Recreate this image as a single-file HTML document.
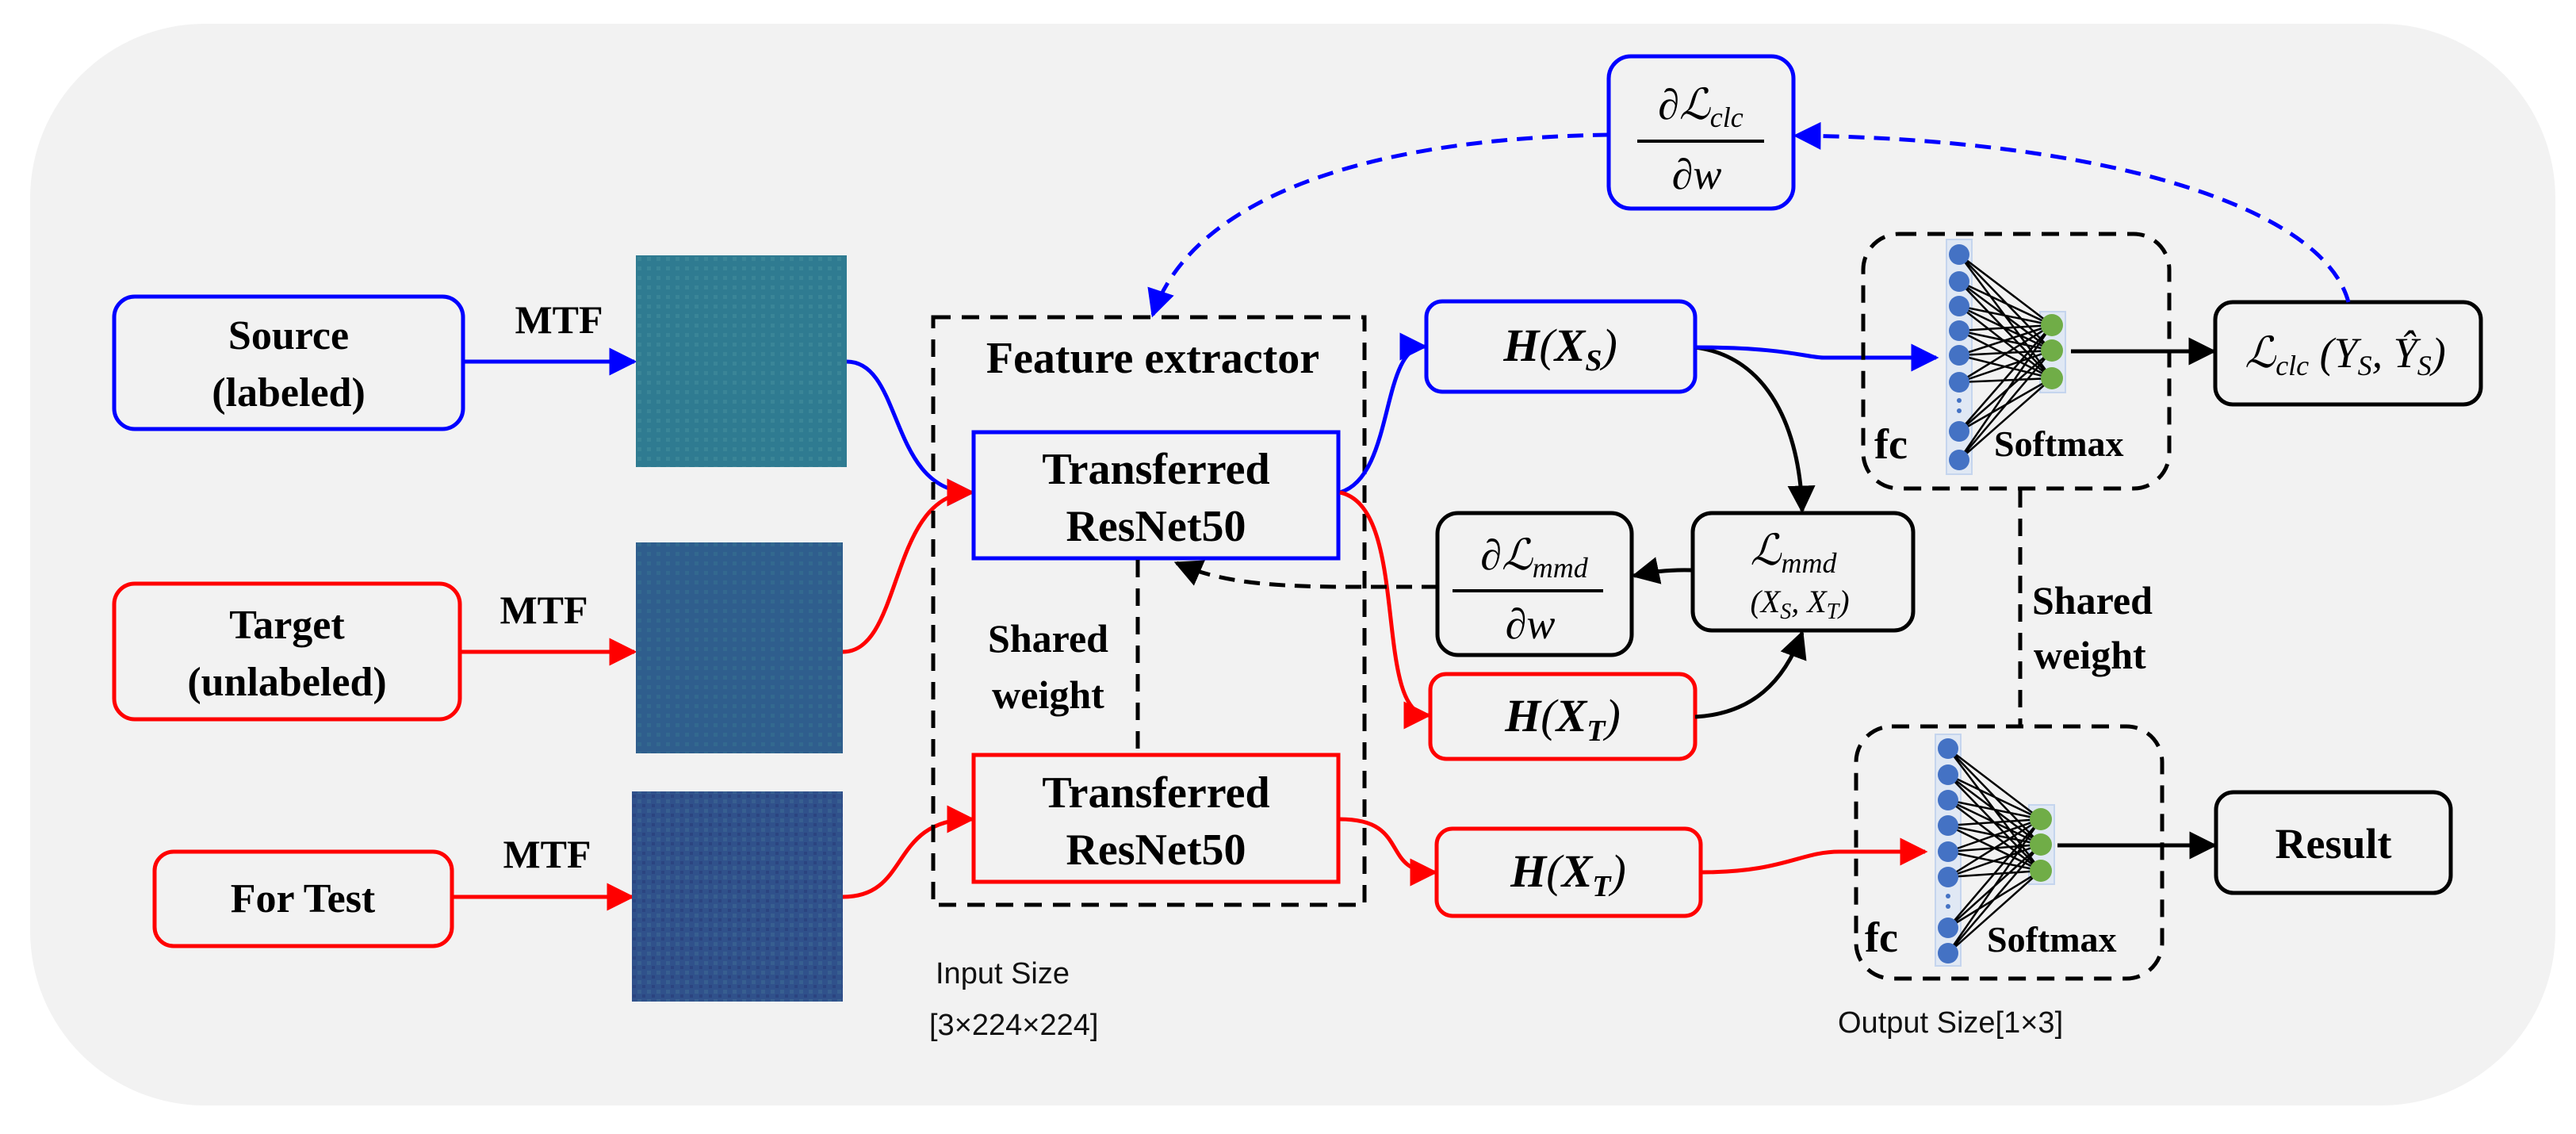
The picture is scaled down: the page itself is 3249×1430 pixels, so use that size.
<!DOCTYPE html>
<html><head><meta charset="utf-8"><style>
html,body{margin:0;padding:0;background:#fff}
svg{display:block}
.b{font-family:"Liberation Serif",serif;font-weight:bold;fill:#000}
.m{font-family:"Liberation Serif",serif;font-style:italic;fill:#000}
.s{font-family:"Liberation Sans",sans-serif;fill:#111}
</style></head><body>
<svg width="3249" height="1430" viewBox="0 0 3249 1430" xmlns="http://www.w3.org/2000/svg">
<defs>
<marker id="ab" viewBox="0 0 10 10" refX="9" refY="5" markerWidth="7" markerHeight="7" orient="auto" markerUnits="strokeWidth"><path d="M0,0L10,5L0,10z" fill="#0000ff"/></marker>
<marker id="ar" viewBox="0 0 10 10" refX="9" refY="5" markerWidth="7" markerHeight="7" orient="auto" markerUnits="strokeWidth"><path d="M0,0L10,5L0,10z" fill="#ff0000"/></marker>
<marker id="ak" viewBox="0 0 10 10" refX="9" refY="5" markerWidth="7" markerHeight="7" orient="auto" markerUnits="strokeWidth"><path d="M0,0L10,5L0,10z" fill="#000"/></marker>
<pattern id="p1" width="12" height="12" patternUnits="userSpaceOnUse"><rect width="12" height="12" fill="#2f7b91"/><rect width="5" height="5" fill="#3a8597"/></pattern>
<pattern id="p2" width="12" height="12" patternUnits="userSpaceOnUse"><rect width="12" height="12" fill="#2f5e8d"/><rect width="5" height="5" fill="#33698f"/></pattern>
<pattern id="p3" width="12" height="12" patternUnits="userSpaceOnUse"><rect width="12" height="12" fill="#30518b"/><rect width="5" height="5" fill="#375f90"/><rect x="6" y="6" width="4" height="4" fill="#2b4480"/></pattern>
</defs>
<rect x="38" y="30" width="3185" height="1364" rx="220" fill="#f2f2f2"/>

<rect x="144" y="374" width="440" height="167" rx="26" fill="none" stroke="#0000ff" stroke-width="5"/>
<text class="b" x="364" y="440" font-size="52" text-anchor="middle">Source</text>
<text class="b" x="364" y="512" font-size="52" text-anchor="middle">(labeled)</text>
<rect x="144" y="736" width="436" height="171" rx="26" fill="none" stroke="#ff0000" stroke-width="5"/>
<text class="b" x="362" y="805" font-size="52" text-anchor="middle">Target</text>
<text class="b" x="362" y="877" font-size="52" text-anchor="middle">(unlabeled)</text>
<rect x="195" y="1074" width="375" height="119" rx="24" fill="none" stroke="#ff0000" stroke-width="5"/>
<text class="b" x="382" y="1150" font-size="52" text-anchor="middle">For Test</text>

<text class="b" x="705" y="420" font-size="50" text-anchor="middle">MTF</text>
<text class="b" x="686" y="786" font-size="50" text-anchor="middle">MTF</text>
<text class="b" x="690" y="1094" font-size="50" text-anchor="middle">MTF</text>
<line x1="584" y1="456" x2="800" y2="456" stroke="#0000ff" stroke-width="5" marker-end="url(#ab)"/>
<line x1="580" y1="822" x2="800" y2="822" stroke="#ff0000" stroke-width="5" marker-end="url(#ar)"/>
<line x1="570" y1="1131" x2="797" y2="1131" stroke="#ff0000" stroke-width="5" marker-end="url(#ar)"/>

<rect x="802" y="322" width="266" height="267" fill="url(#p1)"/>
<rect x="802" y="684" width="261" height="266" fill="url(#p2)"/>
<rect x="797" y="998" width="266" height="265" fill="url(#p3)"/>

<path d="M1068,456 C1140,456 1120,621 1226,621" fill="none" stroke="#0000ff" stroke-width="5" marker-end="url(#ab)"/>
<path d="M1063,822 C1140,822 1120,621 1226,621" fill="none" stroke="#ff0000" stroke-width="5" marker-end="url(#ar)"/>
<path d="M1063,1131 C1150,1131 1120,1033 1226,1033" fill="none" stroke="#ff0000" stroke-width="5" marker-end="url(#ar)"/>

<rect x="1177" y="400" width="544" height="741" fill="none" stroke="#000" stroke-width="5" stroke-dasharray="22,14"/>
<text class="b" x="1454" y="470" font-size="56" text-anchor="middle">Feature extractor</text>
<rect x="1228" y="545" width="460" height="159" fill="#f2f2f2" stroke="#0000ff" stroke-width="5"/>
<text class="b" x="1458" y="610" font-size="56" text-anchor="middle">Transferred</text>
<text class="b" x="1458" y="682" font-size="56" text-anchor="middle">ResNet50</text>
<rect x="1228" y="952" width="460" height="160" fill="#f2f2f2" stroke="#ff0000" stroke-width="5"/>
<text class="b" x="1458" y="1018" font-size="56" text-anchor="middle">Transferred</text>
<text class="b" x="1458" y="1090" font-size="56" text-anchor="middle">ResNet50</text>
<line x1="1435" y1="706" x2="1435" y2="950" stroke="#000" stroke-width="5" stroke-dasharray="22,14"/>
<text class="b" x="1322" y="822" font-size="50" text-anchor="middle">Shared</text>
<text class="b" x="1322" y="893" font-size="50" text-anchor="middle">weight</text>
<text class="s" x="1180" y="1240" font-size="38">Input Size</text>
<text class="s" x="1172" y="1305" font-size="38">[3×224×224]</text>

<rect x="1799" y="380" width="339" height="114" rx="20" fill="none" stroke="#0000ff" stroke-width="5"/>
<text class="m" x="1968" y="455" font-size="58" text-anchor="middle"><tspan font-weight="bold">H</tspan>(<tspan font-weight="bold">X</tspan><tspan font-size="38" dy="12" font-weight="bold">S</tspan><tspan dy="-12">)</tspan></text>
<rect x="1804" y="850" width="334" height="107" rx="20" fill="none" stroke="#ff0000" stroke-width="5"/>
<text class="m" x="1971" y="922" font-size="58" text-anchor="middle"><tspan font-weight="bold">H</tspan>(<tspan font-weight="bold">X</tspan><tspan font-size="38" dy="12" font-weight="bold">T</tspan><tspan dy="-12">)</tspan></text>
<rect x="1812" y="1045" width="333" height="110" rx="20" fill="none" stroke="#ff0000" stroke-width="5"/>
<text class="m" x="1978" y="1118" font-size="58" text-anchor="middle"><tspan font-weight="bold">H</tspan>(<tspan font-weight="bold">X</tspan><tspan font-size="38" dy="12" font-weight="bold">T</tspan><tspan dy="-12">)</tspan></text>

<path d="M1690,621 C1760,600 1740,437 1797,437" fill="none" stroke="#0000ff" stroke-width="5" marker-end="url(#ab)"/>
<path d="M1690,621 C1780,640 1730,902 1802,902" fill="none" stroke="#ff0000" stroke-width="5" marker-end="url(#ar)"/>
<path d="M1690,1033 C1780,1033 1740,1100 1810,1100" fill="none" stroke="#ff0000" stroke-width="5" marker-end="url(#ar)"/>

<rect x="1813" y="647" width="245" height="179" rx="26" fill="none" stroke="#000" stroke-width="5"/>
<text class="m" x="1935" y="718" font-size="54" text-anchor="middle">∂ℒ<tspan font-size="36" dy="10">mmd</tspan></text>
<line x1="1832" y1="745" x2="2022" y2="745" stroke="#000" stroke-width="4"/>
<text class="m" x="1930" y="805" font-size="54" text-anchor="middle">∂w</text>
<rect x="2135" y="647" width="278" height="148" rx="24" fill="none" stroke="#000" stroke-width="5"/>
<text class="m" x="2262" y="712" font-size="54" text-anchor="middle">ℒ<tspan font-size="36" dy="10">mmd</tspan></text>
<text class="m" x="2270" y="772" font-size="40" text-anchor="middle">(X<tspan font-size="28" dy="8">S</tspan><tspan dy="-8">, X</tspan><tspan font-size="28" dy="8">T</tspan><tspan dy="-8">)</tspan></text>
<path d="M2138,438 C2230,450 2270,540 2273,644" fill="none" stroke="#000" stroke-width="5" marker-end="url(#ak)"/>
<path d="M2138,904 C2210,900 2250,860 2273,798" fill="none" stroke="#000" stroke-width="5" marker-end="url(#ak)"/>
<path d="M2135,719 C2100,718 2080,722 2061,726" fill="none" stroke="#000" stroke-width="5" marker-end="url(#ak)"/>
<path d="M1813,740 L1700,740 C1580,740 1530,730 1484,710" fill="none" stroke="#000" stroke-width="5" stroke-dasharray="20,12" marker-end="url(#ak)"/>

<path d="M2138,438 C2250,438 2280,451 2300,451 L2442,451" fill="none" stroke="#0000ff" stroke-width="5" marker-end="url(#ab)"/>
<path d="M2145,1100 C2250,1100 2270,1074 2320,1074 L2428,1074" fill="none" stroke="#ff0000" stroke-width="5" marker-end="url(#ar)"/>

<rect x="2350" y="295" width="386" height="321" rx="45" fill="none" stroke="#000" stroke-width="5" stroke-dasharray="22,14"/>
<rect x="2455" y="302" width="32" height="296" fill="#e0e8f4" stroke="#c5d5ee" stroke-width="2"/>
<rect x="2573" y="393" width="32" height="102" fill="#e0e8f4" stroke="#c5d5ee" stroke-width="2"/>
<g stroke="#000" stroke-width="2.5">
<path d="M2471,321L2588,410M2471,321L2588,442M2471,321L2588,477M2471,355L2588,410M2471,355L2588,442M2471,355L2588,477M2471,386L2588,410M2471,386L2588,442M2471,386L2588,477M2471,417L2588,410M2471,417L2588,442M2471,417L2588,477M2471,448L2588,410M2471,448L2588,442M2471,448L2588,477M2471,482L2588,410M2471,482L2588,442M2471,482L2588,477M2471,544L2588,410M2471,544L2588,442M2471,544L2588,477M2471,580L2588,410M2471,580L2588,442M2471,580L2588,477"/>
</g>
<g fill="#4472c4"><circle cx="2471" cy="321" r="13"/><circle cx="2471" cy="355" r="13"/><circle cx="2471" cy="386" r="13"/><circle cx="2471" cy="417" r="13"/><circle cx="2471" cy="448" r="13"/><circle cx="2471" cy="482" r="13"/><circle cx="2471" cy="505" r="3"/><circle cx="2471" cy="518" r="3"/><circle cx="2471" cy="544" r="13"/><circle cx="2471" cy="580" r="13"/></g>
<g fill="#70ad47"><circle cx="2588" cy="410" r="14"/><circle cx="2588" cy="442" r="14"/><circle cx="2588" cy="477" r="14"/></g>
<text class="b" x="2364" y="578" font-size="54">fc</text>
<text class="b" x="2515" y="575" font-size="46">Softmax</text>
<line x1="2612" y1="443" x2="2792" y2="443" stroke="#000" stroke-width="5" marker-end="url(#ak)"/>
<rect x="2794" y="381" width="335" height="129" rx="22" fill="none" stroke="#000" stroke-width="5"/>
<text class="m" x="2958" y="463" font-size="54" text-anchor="middle">ℒ<tspan font-size="36" dy="10">clc</tspan><tspan dy="-10"> (Y</tspan><tspan font-size="36" dy="10">S</tspan><tspan dy="-10">, Ŷ</tspan><tspan font-size="36" dy="10">S</tspan><tspan dy="-10">)</tspan></text>

<line x1="2548" y1="618" x2="2548" y2="914" stroke="#000" stroke-width="5" stroke-dasharray="22,14"/>
<text class="b" x="2563" y="774" font-size="50">Shared</text>
<text class="b" x="2565" y="843" font-size="50">weight</text>

<rect x="2341" y="916" width="386" height="318" rx="45" fill="none" stroke="#000" stroke-width="5" stroke-dasharray="22,14"/>
<rect x="2441" y="926" width="32" height="292" fill="#e0e8f4" stroke="#c5d5ee" stroke-width="2"/>
<rect x="2559" y="1015" width="32" height="100" fill="#e0e8f4" stroke="#c5d5ee" stroke-width="2"/>
<g stroke="#000" stroke-width="2.5">
<path d="M2457,944L2574,1033M2457,944L2574,1065M2457,944L2574,1098M2457,977L2574,1033M2457,977L2574,1065M2457,977L2574,1098M2457,1009L2574,1033M2457,1009L2574,1065M2457,1009L2574,1098M2457,1041L2574,1033M2457,1041L2574,1065M2457,1041L2574,1098M2457,1074L2574,1033M2457,1074L2574,1065M2457,1074L2574,1098M2457,1106L2574,1033M2457,1106L2574,1065M2457,1106L2574,1098M2457,1170L2574,1033M2457,1170L2574,1065M2457,1170L2574,1098M2457,1202L2574,1033M2457,1202L2574,1065M2457,1202L2574,1098"/>
</g>
<g fill="#4472c4"><circle cx="2457" cy="944" r="13"/><circle cx="2457" cy="977" r="13"/><circle cx="2457" cy="1009" r="13"/><circle cx="2457" cy="1041" r="13"/><circle cx="2457" cy="1074" r="13"/><circle cx="2457" cy="1106" r="13"/><circle cx="2457" cy="1130" r="3"/><circle cx="2457" cy="1143" r="3"/><circle cx="2457" cy="1170" r="13"/><circle cx="2457" cy="1202" r="13"/></g>
<g fill="#70ad47"><circle cx="2574" cy="1033" r="14"/><circle cx="2574" cy="1065" r="14"/><circle cx="2574" cy="1098" r="14"/></g>
<text class="b" x="2352" y="1200" font-size="54">fc</text>
<text class="b" x="2506" y="1200" font-size="46">Softmax</text>
<line x1="2595" y1="1066" x2="2793" y2="1066" stroke="#000" stroke-width="5" marker-end="url(#ak)"/>
<rect x="2795" y="999" width="296" height="127" rx="22" fill="none" stroke="#000" stroke-width="5"/>
<text class="b" x="2943" y="1082" font-size="54" text-anchor="middle">Result</text>
<text class="s" x="2318" y="1302" font-size="38">Output Size[1×3]</text>

<rect x="2029" y="71" width="233" height="192" rx="28" fill="none" stroke="#0000ff" stroke-width="5"/>
<text class="m" x="2145" y="150" font-size="54" text-anchor="middle">∂ℒ<tspan font-size="36" dy="10">clc</tspan></text>
<line x1="2065" y1="178" x2="2225" y2="178" stroke="#000" stroke-width="4"/>
<text class="m" x="2140" y="238" font-size="54" text-anchor="middle">∂w</text>
<path d="M2962,381 C2930,260 2650,175 2265,171" fill="none" stroke="#0000ff" stroke-width="5" stroke-dasharray="20,12" marker-end="url(#ab)"/>
<path d="M2029,170 C1700,175 1500,260 1454,397" fill="none" stroke="#0000ff" stroke-width="5" stroke-dasharray="20,12" marker-end="url(#ab)"/>
</svg>
</body></html>
